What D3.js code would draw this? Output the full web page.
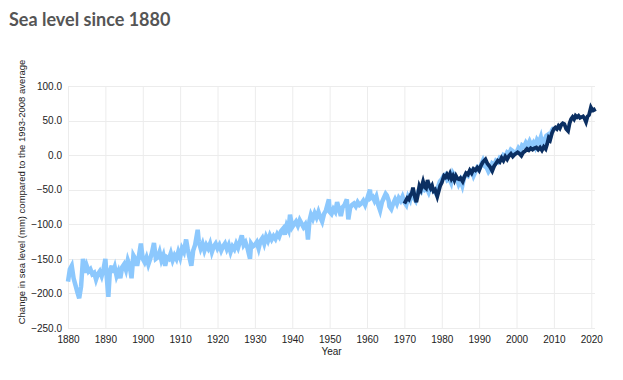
<!DOCTYPE html>
<html>
<head>
<meta charset="utf-8">
<script src="https://cdn.jsdelivr.net/npm/d3@7"></script>
<style>
    body { margin: 0; background: #fff; }
    svg text { font-family: "Liberation Sans", Arial, sans-serif; }
    .title { font-family: Lato, "Open Sans", sans-serif !important; font-weight: 700; }
</style>
</head>
<body>
<svg id="chart" width="623" height="380"></svg>
<script>
// x ticks / y ticks
const xTicks = [1880, 1890, 1900, 1910, 1920, 1930, 1940, 1950, 1960, 1970, 1980, 1990, 2000, 2010, 2020];
const yTicks = [100, 50, 0, -50, -100, -150, -200, -250];

// long reconstruction (light blue), [year, mm]
const reconstruction = [
    [1880.0,-183],[1880.5,-165],[1881.0,-160],[1881.5,-178],[1882.0,-188],[1882.5,-198],[1883.0,-207],[1883.5,-190],
    [1884.0,-150],[1884.5,-170],[1885.0,-160],[1885.5,-168],[1886.0,-165],[1886.5,-172],[1887.0,-170],[1887.5,-180],
    [1888.0,-172],[1888.5,-168],[1889.0,-175],[1889.5,-165],[1890.0,-150],[1890.3,-172],[1890.8,-205],[1891.2,-168],
    [1891.7,-160],[1892.0,-170],[1892.5,-162],[1893.0,-175],[1893.5,-168],[1894.0,-178],[1894.5,-162],[1895.0,-158],
    [1895.5,-166],[1896.0,-152],[1896.5,-160],[1897.0,-178],[1897.5,-145],[1898.0,-150],[1898.5,-160],[1899.0,-145],
    [1899.5,-128],[1900.0,-150],[1900.5,-155],[1901.0,-148],[1901.5,-158],[1902.0,-150],[1902.5,-140],[1903.0,-127],
    [1903.5,-150],[1904.0,-148],[1904.5,-140],[1905.0,-152],[1905.5,-145],[1906.0,-160],[1906.5,-148],[1907.0,-150],
    [1907.5,-142],[1908.0,-152],[1908.5,-145],[1909.0,-150],[1909.5,-140],[1910.0,-148],[1910.5,-135],[1911.0,-140],
    [1911.6,-122],[1912.0,-135],[1912.5,-148],[1913.0,-160],[1913.5,-138],[1914.0,-130],[1914.7,-108],[1915.0,-125],
    [1915.5,-135],[1916.0,-128],[1916.5,-138],[1917.0,-130],[1917.5,-135],[1918.0,-128],[1918.5,-140],[1919.0,-132],
    [1919.5,-128],[1920.0,-135],[1920.5,-130],[1921.0,-138],[1921.5,-132],[1922.0,-128],[1922.5,-136],[1923.0,-130],
    [1923.5,-140],[1924.0,-132],[1924.5,-136],[1925.0,-128],[1925.5,-134],[1926.0,-125],[1926.5,-116],[1927.0,-130],
    [1927.5,-126],[1928.0,-134],[1928.7,-150],[1929.0,-128],[1929.5,-132],[1930.0,-130],[1930.5,-126],[1931.0,-135],
    [1931.5,-124],[1932.0,-120],[1932.5,-128],[1933.0,-118],[1933.5,-124],[1934.0,-116],[1934.5,-122],[1935.0,-117],
    [1935.5,-121],[1936.0,-114],[1936.5,-118],[1937.0,-110],[1937.6,-106],[1938.0,-115],[1938.5,-102],[1939.0,-108],
    [1939.4,-86],[1940.0,-104],[1940.5,-100],[1941.0,-96],[1941.5,-102],[1942.0,-94],[1942.5,-99],[1943.0,-104],
    [1943.5,-100],[1944.0,-110],[1944.2,-122],[1944.6,-95],[1945.0,-86],[1945.5,-92],[1946.0,-84],[1946.5,-90],
    [1947.0,-82],[1947.5,-90],[1948.0,-96],[1948.5,-85],[1949.0,-80],[1949.8,-64],[1950.0,-82],[1950.5,-85],
    [1951.0,-78],[1951.5,-82],[1952.0,-68],[1952.5,-78],[1953.0,-88],[1953.5,-75],[1954.0,-72],[1954.6,-64],
    [1955.0,-93],[1955.5,-76],[1956.0,-72],[1956.5,-70],[1957.0,-74],[1957.5,-68],[1958.0,-72],[1958.5,-70],
    [1959.0,-66],[1959.5,-72],[1960.0,-64],[1960.8,-50],[1961.0,-62],[1961.5,-60],[1962.0,-66],[1962.5,-60],
    [1963.0,-72],[1963.5,-80],[1964.0,-68],[1964.5,-62],[1965.0,-56],[1965.3,-58],[1965.8,-66],[1966.0,-74],
    [1966.5,-78],[1967.0,-70],[1967.5,-64],[1968.0,-70],[1968.5,-62],[1969.0,-66],[1969.5,-60],[1970.0,-68],
    [1970.5,-72],[1971.0,-60],[1971.5,-65],[1972.0,-52],[1972.5,-62],[1973.0,-66],[1973.5,-55],[1974.0,-48],
    [1974.5,-52],[1975.0,-44],[1975.5,-50],[1976.0,-48],[1976.5,-54],[1977.0,-46],[1977.5,-50],[1978.0,-52],
    [1978.5,-56],[1979.0,-46],[1979.5,-38],[1980.0,-35],[1980.5,-30],[1981.0,-28],[1981.5,-36],[1982.0,-34],
    [1982.5,-40],[1983.0,-26],[1983.5,-30],[1984.0,-34],[1984.5,-42],[1985.0,-36],[1985.5,-44],[1986.0,-32],
    [1986.5,-28],[1987.0,-30],[1987.5,-24],[1988.0,-22],[1988.5,-30],[1989.0,-24],[1989.5,-18],[1990.0,-20],
    [1990.5,-14],[1991.0,-8],[1991.5,-16],[1992.0,-18],[1992.5,-24],[1993.0,-20],[1993.5,-12],[1994.0,-14],
    [1994.5,-8],[1995.0,-10],[1995.5,-4],[1996.0,-6],[1996.5,0],[1997.0,-2],[1997.5,4],[1998.0,2],
    [1998.5,8],[1999.0,6],[1999.5,2],[2000.0,4],[2000.5,10],[2001.0,6],[2001.5,14],[2002.0,12],
    [2002.5,18],[2003.0,14],[2003.5,20],[2004.0,14],[2004.5,18],[2005.0,12],[2005.5,22],[2006.0,18],
    [2006.5,26],[2007.0,12],[2007.5,22],[2008.0,28],[2008.5,30],[2009.0,26],[2009.5,36],[2010.0,40]
];

// recent record (dark blue), [year, mm]
const recent = [
    [1970.0,-70],[1970.4,-66],[1970.8,-62],[1971.2,-64],[1971.6,-58],[1972.0,-55],[1972.3,-47],[1972.7,-58],
    [1973.2,-68],[1973.6,-58],[1974.0,-45],[1974.4,-50],[1974.8,-42],[1975.0,-38],[1975.4,-46],[1975.8,-48],
    [1976.2,-36],[1976.6,-44],[1977.0,-48],[1977.4,-44],[1977.8,-52],[1978.2,-50],[1978.8,-60],[1979.2,-52],
    [1979.6,-44],[1980.0,-40],[1980.6,-30],[1981.0,-32],[1981.4,-28],[1981.8,-32],[1982.2,-27],[1982.6,-34],
    [1983.0,-30],[1983.4,-36],[1983.8,-30],[1984.2,-34],[1984.6,-35],[1985.0,-33],[1985.6,-38],[1986.0,-32],
    [1986.5,-26],[1987.0,-28],[1987.5,-22],[1988.0,-26],[1988.5,-20],[1989.0,-22],[1989.5,-18],[1990.0,-22],
    [1990.5,-15],[1991.0,-10],[1991.7,-6],[1992.2,-12],[1992.8,-16],[1993.5,-23],[1994.0,-16],[1994.5,-12],
    [1995.0,-8],[1995.5,-10],[1996.0,-4],[1996.5,-8],[1997.0,-2],[1997.5,-6],[1998.0,-1],[1998.5,2],
    [1999.0,-2],[1999.5,1],[2000.3,4],[2000.8,2],[2001.3,-1],[2001.8,4],[2002.3,6],[2002.8,9],
    [2003.3,7],[2003.8,10],[2004.3,8],[2004.8,10],[2005.3,11],[2005.8,8],[2006.3,11],[2006.8,7],
    [2007.3,12],[2007.8,9],[2008.2,16],[2008.6,25],[2009.0,22],[2009.5,32],[2010.0,38],[2010.4,40],
    [2010.8,38],[2011.2,42],[2011.6,39],[2012.0,44],[2012.4,46],[2012.8,45],[2013.3,38],[2013.8,35],
    [2014.2,46],[2014.6,52],[2015.0,55],[2015.4,52],[2015.8,57],[2016.2,55],[2016.6,57],[2017.0,54],
    [2017.4,55],[2017.8,56],[2018.2,53],[2018.6,48],[2019.0,56],[2019.4,58],[2019.9,69],[2020.3,65],
    [2020.7,66],[2021.0,63]
];

var svg = d3.select("#chart");

var x = d3.scaleLinear().domain([1880, 2021]).range([68, 595]);
var y = d3.scaleLinear().domain([-250, 100]).range([328, 86]);

// title
svg.append("text")
    .attr("class", "title")
    .attr("x", 9)
    .attr("y", 26)
    .attr("font-size", 18)
    .attr("fill", "#555")
    .text("Sea level since 1880");

// grid
var grid = svg.append("g");
grid.selectAll("line.v")
    .data(xTicks)
    .enter()
    .append("line")
    .attr("x1", d => x(d) + 0.5).attr("x2", d => x(d) + 0.5)
    .attr("y1", y(100)).attr("y2", y(-250))
    .attr("stroke", "#ececec");
grid.selectAll("line.h")
    .data(yTicks)
    .enter()
    .append("line")
    .attr("x1", x(1880)).attr("x2", x(2021))
    .attr("y1", d => Math.round(y(d)) + 0.5).attr("y2", d => Math.round(y(d)) + 0.5)
    .attr("stroke", "#ececec");

// axes
var xAxis = svg.append("g")
    .attr("transform", "translate(0," + y(-250) + ")")
    .call(d3.axisBottom(x).tickValues(xTicks).tickFormat(d3.format("d")).tickSize(0).tickPadding(8));
var yAxis = svg.append("g")
    .attr("transform", "translate(" + x(1880) + ",0)")
    .call(d3.axisLeft(y).tickValues(yTicks).tickFormat(d3.format(".1f")).tickSize(0).tickPadding(6));
[xAxis, yAxis].forEach(function(a) {
    a.select(".domain").remove();
    a.selectAll("text").attr("font-size", 10).attr("fill", "#222")
        .attr("font-family", "'Liberation Sans', Arial, sans-serif");
});

svg.append("text")
    .attr("x", (x(1880) + x(2021)) / 2)
    .attr("y", 355)
    .attr("text-anchor", "middle")
    .attr("font-size", 10)
    .attr("fill", "#222")
    .text("Year");

svg.append("text")
    .attr("transform", "translate(25,192) rotate(-90)")
    .attr("text-anchor", "middle")
    .attr("font-size", 9.5)
    .attr("fill", "#222")
    .text("Change in sea level (mm) compared to the 1993-2008 average");

// lines
var line = d3.line()
    .x(d => x(d[0]))
    .y(d => y(d[1]));

svg.append("path")
    .datum(reconstruction)
    .attr("d", line)
    .attr("fill", "none")
    .attr("stroke", "#8cc8fd")
    .attr("stroke-width", 4.5)
    .attr("stroke-linejoin", "miter")
    .attr("stroke-miterlimit", 4);

svg.append("path")
    .datum(recent)
    .attr("d", line)
    .attr("fill", "none")
    .attr("stroke", "#0b2f62")
    .attr("stroke-width", 3.8)
    .attr("stroke-linejoin", "miter")
    .attr("stroke-miterlimit", 4);
</script>
</body>
</html>
